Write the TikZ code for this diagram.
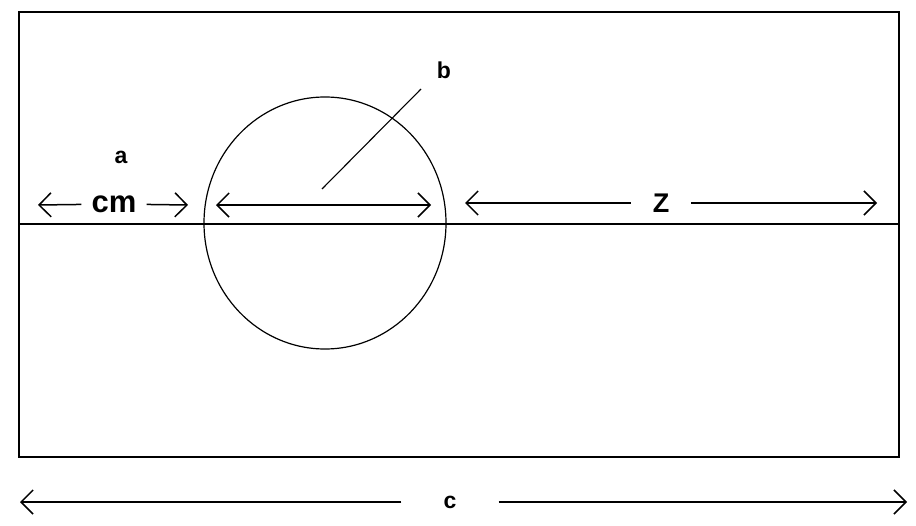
\documentclass[tikz,border=0pt]{standalone}
\usepackage{fontspec}
\setmainfont{Liberation Sans}
\usetikzlibrary{arrows.meta}

\tikzset{
  tag/.style={font=\fontsize{23}{23}\bfseries\selectfont, inner sep=0pt},
  dimtext/.style={font=\fontsize{27}{27}\bfseries\selectfont, inner ysep=0pt},
  barb/.style={line width=1.5pt, -{Straight Barb[length=12pt,width=24pt]}},
  twobarb/.style={line width=1.5pt, {Straight Barb[length=12pt,width=24pt]}-{Straight Barb[length=12pt,width=24pt]}}
}

\begin{document}
\begin{tikzpicture}[x=1pt,y=-1pt]
\useasboundingbox (0,0) rectangle (916,525);

% box, centre line and ball
\draw[line width=1.6pt] (19,12) rectangle (899,457);
\draw[line width=1.3pt] (19,224) -- (899,224);
\draw[line width=1.2pt] (325,223) ellipse [x radius=121, y radius=126];

% end points of the dimension arrows
\coordinate (cmL) at (38,205);
\coordinate (cmR) at (188,205);
\coordinate (dL) at (216,205);
\coordinate (dR) at (431,205);
\coordinate (zL) at (465,203);
\coordinate (zR) at (877,203);
\coordinate (cL) at (20,502);
\coordinate (cR) at (907,502);
\coordinate (rad) at (322,189);
\coordinate (radtip) at (421,89);

\node[tag] (a) at (121,157) {a};
\node[tag] (b) at (444,70) {b};

\node[dimtext, font=\fontsize{31}{31}\bfseries\selectfont, inner xsep=10pt] (cm) at (114,204) {cm};
\draw[barb] (cm) -- (cmL);
\draw[barb] (cm) -- (cmR);

\draw[twobarb] (dL) -- (dR);
\draw[line width=1.1pt] (rad) -- (radtip);

\node[dimtext, inner xsep=22pt] (z) at (661,203) {Z};
\draw[barb] (z) -- (zL);
\draw[barb] (z) -- (zR);

\node[tag, inner xsep=42pt] (c) at (450,502) {c};
\draw[barb] (c) -- (cL);
\draw[barb] (c) -- (cR);
\end{tikzpicture}
\end{document}
